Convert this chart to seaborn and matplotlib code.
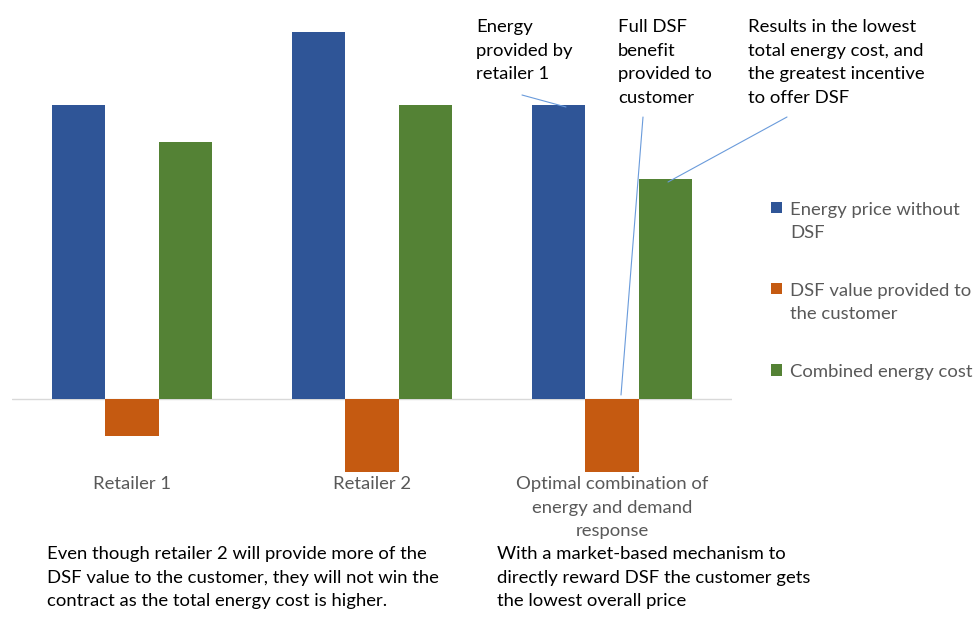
import matplotlib
matplotlib.use('Agg')
import matplotlib.pyplot as plt
import seaborn as sns
import pandas as pd
from matplotlib.lines import Line2D

categories = ['Retailer 1', 'Retailer 2', 'Optimal combination of\nenergy and demand\nresponse']
series = ['Energy price without\nDSF', 'DSF value provided to\nthe customer', 'Combined energy cost']
energy_price = [8, 10, 8]
dsf_value = [-1, -2, -2]
combined_cost = [7, 8, 6]
colors = ['#2F5597', '#C55A11', '#548235']

rows = []
for s, vals in zip(series, [energy_price, dsf_value, combined_cost]):
    for c, v in zip(categories, vals):
        rows.append({'category': c, 'series': s, 'value': v})
df = pd.DataFrame(rows)

sns.set_theme(style='white')
plt.rcParams['font.family'] = ['Lato', 'DejaVu Sans']

W, H = 976, 619
FS = 13.3
LS = 1.58
fig = plt.figure(figsize=(W / 100, H / 100), dpi=100)

def fx(x):
    return x / W

def fy(y):
    return 1 - y / H

zero_px, unit_px = 399, 36.7
ax_top, ax_bot = 0, 472
ax = fig.add_axes([fx(12), fy(ax_bot), 720 / W, (ax_bot - ax_top) / H])
sns.barplot(data=df, x='category', y='value', hue='series', palette=colors,
            width=0.667, saturation=1, linewidth=0, ax=ax)
for p in ax.patches:
    p.set_clip_on(False)
ax.set_ylim(-(ax_bot - zero_px) / unit_px, (zero_px - ax_top) / unit_px)
ax.set_xlim(-0.5, 2.5)
ax.axhline(0, color='#D9D9D9', lw=1, zorder=0)
for sp in ax.spines.values():
    sp.set_visible(False)
ax.set_yticks([])
ax.set_xlabel('')
ax.set_ylabel('')
ax.tick_params(axis='x', length=0, pad=3, labelsize=FS, labelcolor='#595959')
for t in ax.get_xticklabels():
    t.set_linespacing(LS)

handles, labels = ax.get_legend_handles_labels()
leg = ax.legend(handles, labels, loc='upper left', bbox_to_anchor=(fx(754), fy(185)),
                bbox_transform=fig.transFigure, frameon=False, handlelength=0.6,
                handleheight=0.6, handletextpad=0.45, labelspacing=2.25, fontsize=FS,
                labelcolor='#595959')
for t in leg.get_texts():
    t.set_linespacing(LS)
for col in leg._legend_handle_box.get_children():
    for item in col.get_children():
        item.align = 'top'

ann_kw = dict(fontsize=FS, color='black', va='top', ha='left', linespacing=LS)
fig.text(fx(476), fy(19), 'Energy\nprovided by\nretailer 1', **ann_kw)
fig.text(fx(618), fy(19), 'Full DSF\nbenefit\nprovided to\ncustomer', **ann_kw)
fig.text(fx(748), fy(19), 'Results in the lowest\ntotal energy cost, and\nthe greatest incentive\nto offer DSF', **ann_kw)
fig.text(fx(47), fy(546), 'Even though retailer 2 will provide more of the\nDSF value to the customer, they will not win the\ncontract as the total energy cost is higher.', **ann_kw)
fig.text(fx(497), fy(546), 'With a market-based mechanism to\ndirectly reward DSF the customer gets\nthe lowest overall price', **ann_kw)

line_color = '#6A9BDB'
for (x0, y0), (x1, y1) in [((522, 95), (566, 107)), ((643, 117), (621, 395)), ((787, 117), (668, 182))]:
    fig.add_artist(Line2D([fx(x0), fx(x1)], [fy(y0), fy(y1)], color=line_color, lw=0.8,
                          transform=fig.transFigure))

fig.savefig('out.png', dpi=100, facecolor='white')
